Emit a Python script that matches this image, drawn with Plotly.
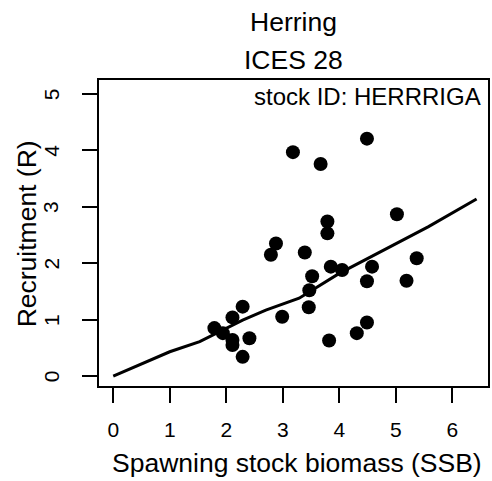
import plotly.graph_objects as go

# Observed stock-recruitment points (SSB, R)
ssb = [1.79, 1.94, 2.11, 2.29, 2.11, 2.11, 2.41, 2.29, 2.99, 2.79, 2.88, 3.18,
       3.39, 3.52, 3.47, 3.46, 3.67, 3.79, 3.79, 3.85, 4.05, 3.82, 4.31, 4.49,
       4.49, 4.58, 4.49, 5.02, 5.37, 5.19]
rec = [0.85, 0.76, 1.04, 1.23, 0.64, 0.55, 0.67, 0.34, 1.05, 2.15, 2.35, 3.97,
       2.19, 1.77, 1.52, 1.22, 3.76, 2.53, 2.74, 1.94, 1.88, 0.63, 0.76, 0.95,
       1.68, 1.94, 4.21, 2.87, 2.09, 1.69]

# Fitted curve
fit_x = [0, 1, 1.53, 2.29, 2.70, 3.29, 4.0, 4.69, 5.58, 6.43]
fit_y = [0, 0.43, 0.61, 0.99, 1.17, 1.38, 1.82, 2.18, 2.65, 3.14]

x_ticks = [0, 1, 2, 3, 4, 5, 6]
y_ticks = [0, 1, 2, 3, 4, 5]

title_lines = ["Herring", "ICES 28"]
stock_label = "stock ID: HERRRIGA"
x_title = "Spawning stock biomass (SSB)"
y_title = "Recruitment (R)"

FONT = "Liberation Sans, Arial, sans-serif"

fig = go.Figure()
fig.add_trace(go.Scatter(x=fit_x, y=fit_y, mode="lines",
                         line=dict(color="black", width=3), hoverinfo="skip",
                         showlegend=False))
fig.add_trace(go.Scatter(x=ssb, y=rec, mode="markers",
                         marker=dict(color="black", size=14, line=dict(width=0)),
                         showlegend=False))

axis_common = dict(showgrid=False, zeroline=False, showline=True, linecolor="black",
                   linewidth=1.5, mirror=True, ticks="outside", ticklen=15,
                   tickwidth=1.5, tickcolor="black",
                   tickfont=dict(family=FONT, size=21, color="black"))

fig.update_xaxes(range=[-0.252, 6.632], tickvals=x_ticks, ticktext=[str(v) for v in x_ticks],
                 ticklabelstandoff=9, **axis_common)
fig.update_yaxes(range=[-0.177, 5.25], tickvals=y_ticks, showticklabels=False, **axis_common)

W, H = 492, 481
L, R, T, B = 99, 2, 80, 95
pw = W - L - R
ph = H - T - B

def px_to_paper_x(px):
    return (px - L) / pw

def px_to_paper_y(py):
    return (H - B - py) / ph

annotations = [
    dict(text=title_lines[0], x=px_to_paper_x(295), y=px_to_paper_y(22)),
    dict(text=title_lines[1], x=px_to_paper_x(295), y=px_to_paper_y(60)),
    dict(text=x_title, x=px_to_paper_x(298), y=px_to_paper_y(463)),
    dict(text=y_title, x=px_to_paper_x(27), y=px_to_paper_y(234), textangle=-90),
]
for a in annotations:
    a.update(xref="paper", yref="paper", showarrow=False, xanchor="center", yanchor="middle",
             font=dict(family=FONT, size=26.5, color="black"))
annotations.append(dict(text=stock_label, xref="paper", yref="paper",
                        x=px_to_paper_x(485), y=px_to_paper_y(96), xanchor="right",
                        yanchor="middle", showarrow=False,
                        font=dict(family=FONT, size=24, color="black")))
# y tick labels, rotated parallel to the axis
for v in y_ticks:
    annotations.append(dict(text=str(v), xref="paper", yref="y", x=px_to_paper_x(51), y=v,
                            xanchor="center", yanchor="middle", textangle=-90,
                            showarrow=False,
                            font=dict(family=FONT, size=21, color="black")))

fig.update_layout(width=W, height=H, margin=dict(l=L, r=R, t=T, b=B, pad=0),
                  paper_bgcolor="white", plot_bgcolor="white",
                  annotations=annotations, showlegend=False)

fig.write_html("out.html", config={"displayModeBar": False},
               post_script="document.body.style.margin='0';document.body.style.padding='0';")
